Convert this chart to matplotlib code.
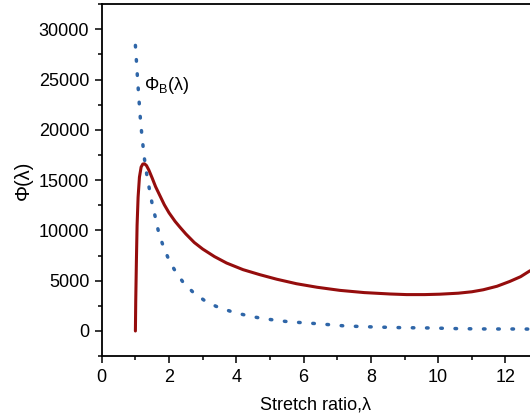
import matplotlib
matplotlib.use("Agg")
import matplotlib.pyplot as plt
from matplotlib.ticker import MultipleLocator

plt.rcParams['font.family'] = ['Liberation Sans', 'DejaVu Sans']
plt.rcParams['mathtext.fontset'] = 'custom'
plt.rcParams['mathtext.rm'] = 'Liberation Sans'
plt.rcParams['mathtext.it'] = 'Liberation Sans'

# total strain energy Phi(lambda)
lam_total = [1.00, 1.01, 1.03, 1.05, 1.08, 1.12, 1.17, 1.22, 1.27, 1.33, 1.40, 1.50, 1.60, 1.73,
             1.86, 2.00, 2.18, 2.33, 2.50, 2.75, 3.00, 3.35, 3.71, 4.20, 4.70, 5.20, 5.79, 6.40,
             7.08, 7.80, 8.57, 9.06, 9.60, 10.05, 10.60, 11.00, 11.34, 11.75, 12.13, 12.45, 12.73]
phi_total = [0, 3000, 7000, 10500, 13300, 15300, 16300, 16600, 16630, 16450, 16000, 15200, 14350, 13450,
             12550, 11750, 10900, 10300, 9650, 8800, 8150, 7400, 6760, 6100, 5600, 5150, 4700, 4350,
             4040, 3820, 3680, 3620, 3620, 3660, 3760, 3900, 4100, 4450, 4930, 5400, 5990]

# bending part Phi_B(lambda)
lam_b = [1.00, 1.02, 1.05, 1.10, 1.15, 1.20, 1.27, 1.35, 1.49, 1.60, 1.68, 1.80, 1.96, 2.15, 2.40,
         2.70, 3.05, 3.40, 3.86, 4.30, 4.70, 5.10, 5.55, 6.39, 7.24, 8.09, 8.93, 9.79, 10.64, 11.49,
         12.33, 12.73]
phi_b = [28400, 27400, 25800, 23300, 21000, 19200, 17100, 15300, 12790, 11200, 9970, 8700, 7360, 6150, 4930,
         3900, 3040, 2450, 1920, 1550, 1290, 1100, 920, 730, 500, 400, 330, 300, 230, 200,
         200, 190]

fig = plt.figure(figsize=(5.30, 4.18), dpi=100)
ax = fig.add_axes([0.192, 0.148, 0.808, 0.842])

ax.plot(lam_total, phi_total, color='#950d0d', lw=2.2, solid_capstyle='round', solid_joinstyle='round')
ax.plot(lam_b, phi_b, color='#2f66a8', lw=2.5, linestyle=(0, (0.45, 3.65)), dash_capstyle='round')

ax.text(1.26, 24450, r'$\Phi_{\mathrm{B}}(\mathrm{λ})$', fontsize=13, va='center', ha='left')

ax.set_xlim(0, 12.73)
ax.set_ylim(-2500, 32500)
ax.xaxis.set_major_locator(MultipleLocator(2))
ax.xaxis.set_minor_locator(MultipleLocator(1))
ax.yaxis.set_minor_locator(MultipleLocator(2500))
ax.set_yticks(range(0, 30001, 5000))

ax.tick_params(which='both', direction='out', width=1.1, labelsize=13, pad=4)
ax.tick_params(which='major', length=5)
ax.tick_params(which='minor', length=3)
ax.spines['right'].set_visible(False)
for s in ['left', 'bottom', 'top']:
    ax.spines[s].set_linewidth(1.3)

ax.set_xlabel('Stretch ratio,λ', fontsize=13, labelpad=8)
ax.set_ylabel('Φ(λ)', fontsize=14.5, labelpad=4)

fig.savefig('out.png', dpi=100)
